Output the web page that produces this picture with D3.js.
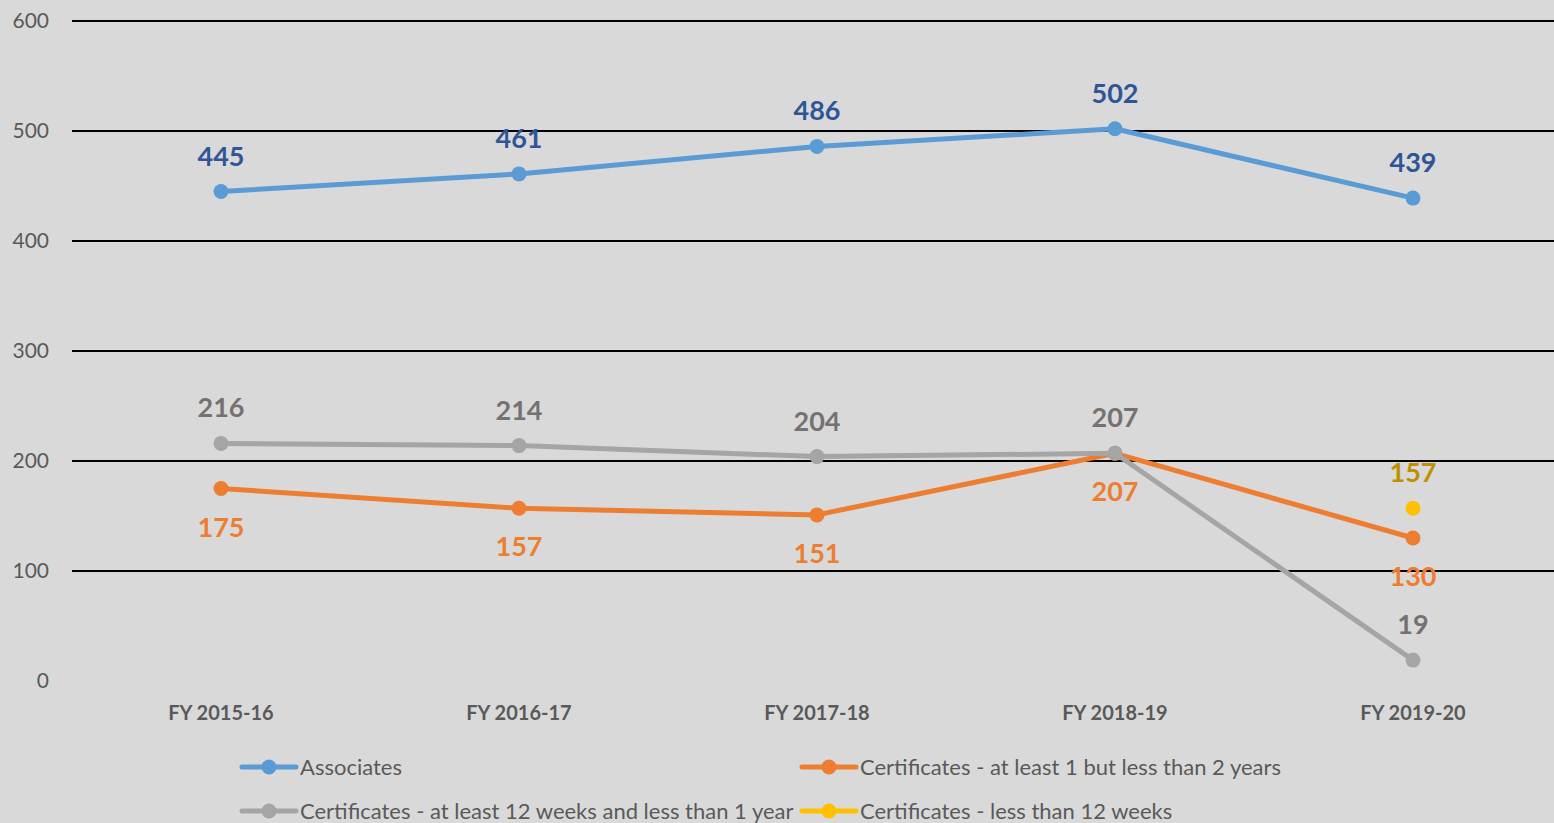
<!DOCTYPE HTML>
<html>
  <head>
    <style>
      body { margin: 0; background: #d9d9d9; }
      svg { display: block; font-family: Lato, "Open Sans", sans-serif; }
    </style>
  </head>
  <body>
    <script type="text/javascript" src="https://cdn.jsdelivr.net/npm/d3@7/dist/d3.min.js"></script>
    <script>

		// *** DATA ***
		var years = ['FY 2015-16', 'FY 2016-17', 'FY 2017-18', 'FY 2018-19', 'FY 2019-20'];
		var associates = [445, 461, 486, 502, 439];
		var cert1to2 = [175, 157, 151, 207, 130];
		var cert12wTo1y = [216, 214, 204, 207, 19];
		var certLess12w = [null, null, null, null, 157];
		var yTicks = [0, 100, 200, 300, 400, 500, 600];

		var series = [
			{name: 'Associates', values: associates, color: '#5b9bd5', label: '#2f5597', pos: 'above'},
			{name: 'Certificates - at least 1 but less than 2 years', values: cert1to2, color: '#ed7d31', label: '#ed7d31', pos: 'below'},
			{name: 'Certificates - at least 12 weeks and less than 1 year', values: cert12wTo1y, color: '#a5a5a5', label: '#767171', pos: 'above'},
			{name: 'Certificates - less than 12 weeks', values: certLess12w, color: '#ffc000', label: '#bf9000', pos: 'above'}
		];

		// *** SETUP ***
		var W = 1554, H = 823;

		var svg = d3.select('body').append('svg')
			.attr('width', W)
			.attr('height', H);

		svg.append('rect')
			.attr('width', W).attr('height', H)
			.style('fill', '#d9d9d9');

		var x = d3.scaleBand().domain(years).range([72, 1562]);
		var y = d3.scaleLinear().domain([0, 600]).range([681, 21]);

		// GRIDLINES
		svg.selectAll('.grid').data(yTicks.filter(function(d){ return d > 0; }))
			.enter().append('line')
			.attr('x1', 72).attr('x2', W)
			.attr('y1', function(d){ return y(d); })
			.attr('y2', function(d){ return y(d); })
			.style('stroke', '#000')
			.style('stroke-width', 2);

		// Y AXIS LABELS
		svg.selectAll('.ytick').data(yTicks)
			.enter().append('text')
			.attr('x', 49)
			.attr('y', function(d){ return y(d); })
			.attr('dy', '0.35em')
			.attr('text-anchor', 'end')
			.style('font-size', '21px')
			.style('fill', '#595959')
			.text(function(d){ return d; });

		// X AXIS LABELS
		svg.selectAll('.xtick').data(years)
			.enter().append('text')
			.attr('x', function(d){ return x(d) + x.bandwidth() / 2; })
			.attr('y', 720)
			.attr('text-anchor', 'middle')
			.style('font-size', '20px')
			.style('font-weight', 'bold')
			.style('fill', '#595959')
			.text(function(d){ return d; });

		// LINES, MARKERS, LABELS
		var cx = function(i){ return x(years[i]) + x.bandwidth() / 2; };
		var line = d3.line()
			.defined(function(d){ return d != null; })
			.x(function(d, i){ return cx(i); })
			.y(function(d){ return y(d); });

		series.forEach(function(s){
			var g = svg.append('g');
			g.append('path')
				.datum(s.values)
				.attr('d', line)
				.style('fill', 'none')
				.style('stroke', s.color)
				.style('stroke-width', 5)
				.style('stroke-linejoin', 'round');

			var pts = s.values.map(function(v, i){ return {v: v, i: i}; })
				.filter(function(d){ return d.v != null; });

			g.selectAll('circle').data(pts)
				.enter().append('circle')
				.attr('cx', function(d){ return cx(d.i); })
				.attr('cy', function(d){ return y(d.v); })
				.attr('r', 7.5)
				.style('fill', s.color);

			g.selectAll('text').data(pts)
				.enter().append('text')
				.attr('x', function(d){ return cx(d.i); })
				.attr('y', function(d){ return y(d.v) + (s.pos == 'above' ? -26 : 48); })
				.attr('text-anchor', 'middle')
				.style('font-size', '27px')
				.style('font-weight', 'bold')
				.style('fill', s.label)
				.text(function(d){ return d.v; });
		});

		// LEGEND
		var legendPos = [[242, 767], [802, 767], [242, 811], [802, 811]];
		series.forEach(function(s, i){
			var lg = svg.append('g')
				.attr('transform', 'translate(' + legendPos[i][0] + ',' + legendPos[i][1] + ')');
			lg.append('line')
				.attr('x1', 0).attr('x2', 54)
				.style('stroke', s.color)
				.style('stroke-width', 5)
				.style('stroke-linecap', 'round');
			lg.append('circle')
				.attr('cx', 27).attr('r', 7.5)
				.style('fill', s.color);
			lg.append('text')
				.attr('x', 58)
				.attr('dy', '0.35em')
				.style('font-size', '22px')
				.style('fill', '#595959')
				.text(s.name);
		});

    </script>
  </body>
</html>
